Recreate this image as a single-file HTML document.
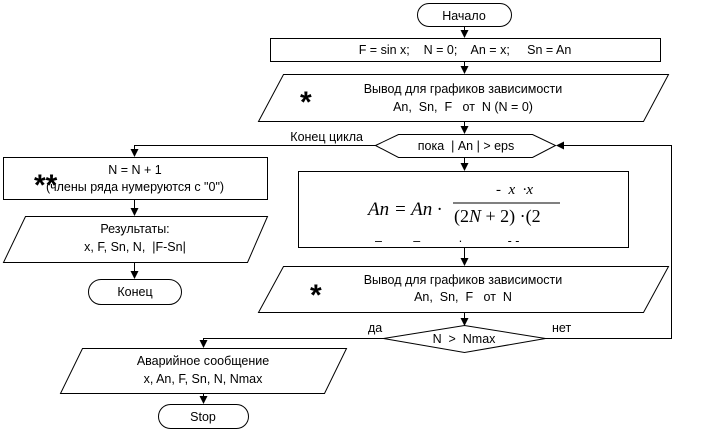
<!DOCTYPE html>
<html><head><meta charset="utf-8"><style>
body{margin:0;background:#fff;}
svg{display:block;}
text{font-family:"Liberation Sans",sans-serif;font-size:12.5px;fill:#000;}
</style></head><body>
<svg width="709" height="431" viewBox="0 0 709 431" xmlns="http://www.w3.org/2000/svg">
<defs><marker id="a" markerWidth="8" markerHeight="8" refX="7" refY="4" orient="auto" markerUnits="userSpaceOnUse"><path d="M0,0 L8,4 L0,8 z" fill="#000"/></marker></defs>
<g fill="none" stroke="#000" stroke-width="1">
<rect x="417.5" y="3.5" width="94" height="23" rx="11.5"/>
<rect x="270.5" y="38.5" width="390" height="23"/>
<path d="M283.5,74.5 L668.5,74.5 L643.5,121.5 L258.5,121.5 Z"/>
<path d="M375.5,145.5 L398.5,134.5 L532.5,134.5 L555.5,145.5 L532.5,157.5 L398.5,157.5 Z"/>
<rect x="298.5" y="171.5" width="330" height="76"/>
<path d="M283.5,266.5 L668.5,266.5 L643.5,312.5 L258.5,312.5 Z"/>
<path d="M383.5,338.5 L464.5,325.5 L545.5,338.5 L464.5,352.5 Z"/>
<rect x="3.5" y="157.5" width="264" height="42"/>
<path d="M25.5,216.5 L267.5,216.5 L247.5,262.5 L3.5,262.5 Z"/>
<rect x="88.5" y="279.5" width="93" height="25" rx="12.5"/>
<path d="M82.5,348.5 L346.5,348.5 L324.5,393.5 L60.5,393.5 Z"/>
<rect x="158.5" y="404.5" width="90" height="24" rx="12"/>
<path d="M464.5,27 V37" marker-end="url(#a)"/>
<path d="M464.5,62 V73" marker-end="url(#a)"/>
<path d="M464.5,122 V133" marker-end="url(#a)"/>
<path d="M464.5,158 V170" marker-end="url(#a)"/>
<path d="M464.5,248 V265" marker-end="url(#a)"/>
<path d="M464.5,313 V325" marker-end="url(#a)"/>
<path d="M375.5,145.5 H134.5 V156" marker-end="url(#a)"/>
<path d="M134.5,200 V215" marker-end="url(#a)"/>
<path d="M134.5,263 V278" marker-end="url(#a)"/>
<path d="M545.5,338.5 H671.5 V145.5 H557" marker-end="url(#a)"/>
<path d="M383.5,338.5 H203.5 V347" marker-end="url(#a)"/>
<path d="M203.5,394 V403" marker-end="url(#a)"/>
</g>
<text x="464" y="20" text-anchor="middle">Начало</text>
<text x="465" y="54" text-anchor="middle" xml:space="preserve">F = sin x;    N = 0;    An = x;     Sn = An</text>
<text x="463" y="93" text-anchor="middle">Вывод для графиков зависимости</text>
<text x="463" y="111" text-anchor="middle" xml:space="preserve">An,  Sn,  F   от  N (N = 0)</text>
<text x="300" y="112" style="font-size:30px;font-weight:bold">*</text>
<text x="363" y="141" text-anchor="end">Конец цикла</text>
<text x="466" y="150" text-anchor="middle" xml:space="preserve">пока  | An | &gt; eps</text>
<text x="368" y="215" style="font-family:'Liberation Serif',serif;font-size:19px;font-style:italic">An = An ·</text>
<text x="496" y="194" style="font-family:'Liberation Serif',serif;font-size:15px;font-style:italic" xml:space="preserve">-  x  ·x</text>
<line x1="453" y1="203" x2="560" y2="203" stroke="#000" stroke-width="1"/>
<text x="454" y="222" style="font-family:'Liberation Serif',serif;font-size:18px" xml:space="preserve">(2<tspan font-style="italic">N</tspan> + 2) ·(2</text>
<text x="375" y="245" xml:space="preserve">–         –           ·             - -</text>
<text x="463" y="284" text-anchor="middle">Вывод для графиков зависимости</text>
<text x="463" y="301" text-anchor="middle" xml:space="preserve">An,  Sn,  F   от  N</text>
<text x="310" y="305" style="font-size:30px;font-weight:bold">*</text>
<text x="368" y="332">да</text>
<text x="552" y="332">нет</text>
<text x="464" y="343" text-anchor="middle" xml:space="preserve">N  &gt;  Nmax</text>
<text x="135" y="174" text-anchor="middle">N = N + 1</text>
<text x="135" y="191" text-anchor="middle">(члены ряда нумеруются с "0")</text>
<text x="34" y="195" style="font-size:30px;font-weight:bold">**</text>
<text x="135" y="233" text-anchor="middle">Результаты:</text>
<text x="135" y="251" text-anchor="middle" xml:space="preserve">x, F, Sn, N,  |F-Sn|</text>
<text x="135" y="296" text-anchor="middle">Конец</text>
<text x="203" y="365" text-anchor="middle">Аварийное сообщение</text>
<text x="203" y="383" text-anchor="middle">x, An, F, Sn, N, Nmax</text>
<text x="203" y="421" text-anchor="middle">Stop</text>
</svg>
</body></html>
